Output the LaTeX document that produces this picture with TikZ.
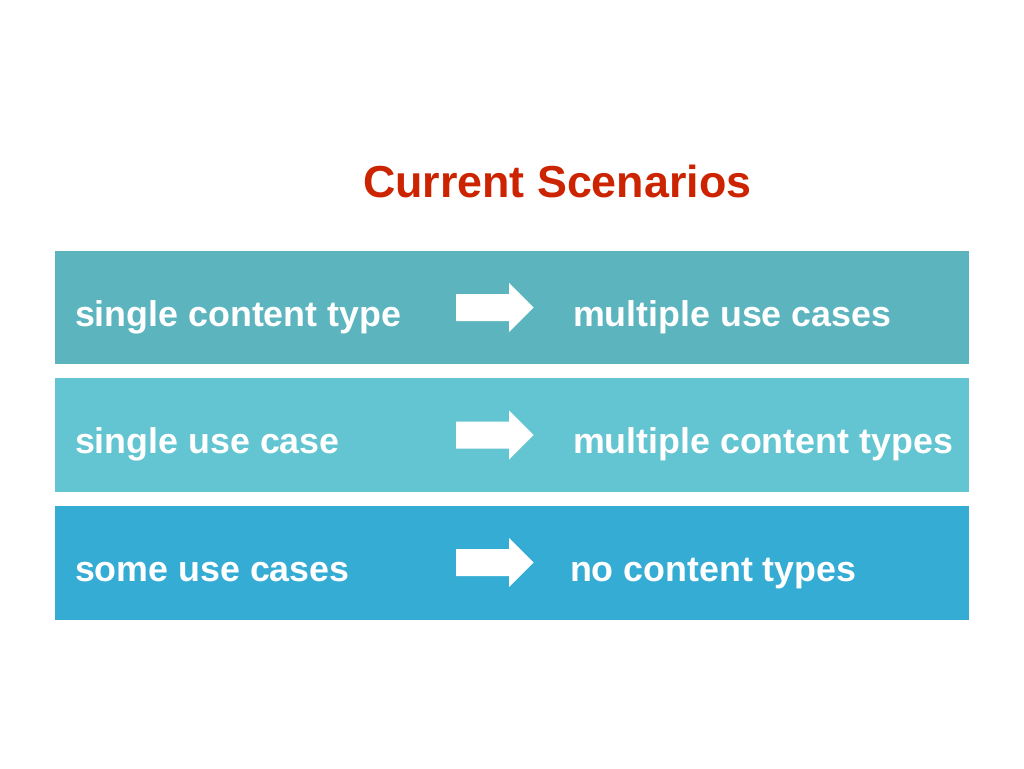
\documentclass[tikz,border=0pt]{standalone}
\usepackage{fontspec}
\setmainfont{Liberation Sans}
\definecolor{rowA}{HTML}{5BB4BE}
\definecolor{rowB}{HTML}{62C5D1}
\definecolor{rowC}{HTML}{35ACD4}
\definecolor{titlered}{HTML}{CC2400}
\begin{document}
\begin{tikzpicture}[x=1pt,y=-1pt]
\tikzset{
  band/.style={inner sep=0pt, outer sep=0pt, minimum width=913.5pt, minimum height=113.5pt, anchor=north west},
  lbl/.style={text=white, font=\fontsize{35.8}{40}\selectfont\bfseries, anchor=base west, inner sep=0pt, outer sep=0pt},
  ttl/.style={text=titlered, font=\fontsize{44.8}{50}\selectfont\bfseries, anchor=base west, inner sep=0pt, outer sep=0pt},
  fatarrow/.style={fill=white, draw=none}
}
\useasboundingbox (0,0) rectangle (1024,768);
\fill[white] (0,0) rectangle (1024,768);

\node[ttl] (title) at (363,197) {Current Scenarios};

\node[band, fill=rowA] (b1) at (55,250.5) {};
\node[band, fill=rowB] (b2) at (55,378) {};
\node[band, fill=rowC] (b3) at (55,506) {};

\node[lbl] (l1) at (75,326) {single content type};
\node[lbl] (r1) at (573,326) {multiple use cases};
\node[lbl] (l2) at (75,453) {single use case};
\node[lbl] (r2) at (573,453) {multiple content types};
\node[lbl] (l3) at (75,581) {some use cases};
\node[lbl] (r3) at (570,581) {no content types};

\foreach \c in {307.5,435,562.5}{
  \fill[fatarrow] (456,\c-13.5) -- (509,\c-13.5) -- (509,\c-24.5) -- (533.5,\c)
    -- (509,\c+24.5) -- (509,\c+13.5) -- (456,\c+13.5) -- cycle;
}
\end{tikzpicture}
\end{document}
